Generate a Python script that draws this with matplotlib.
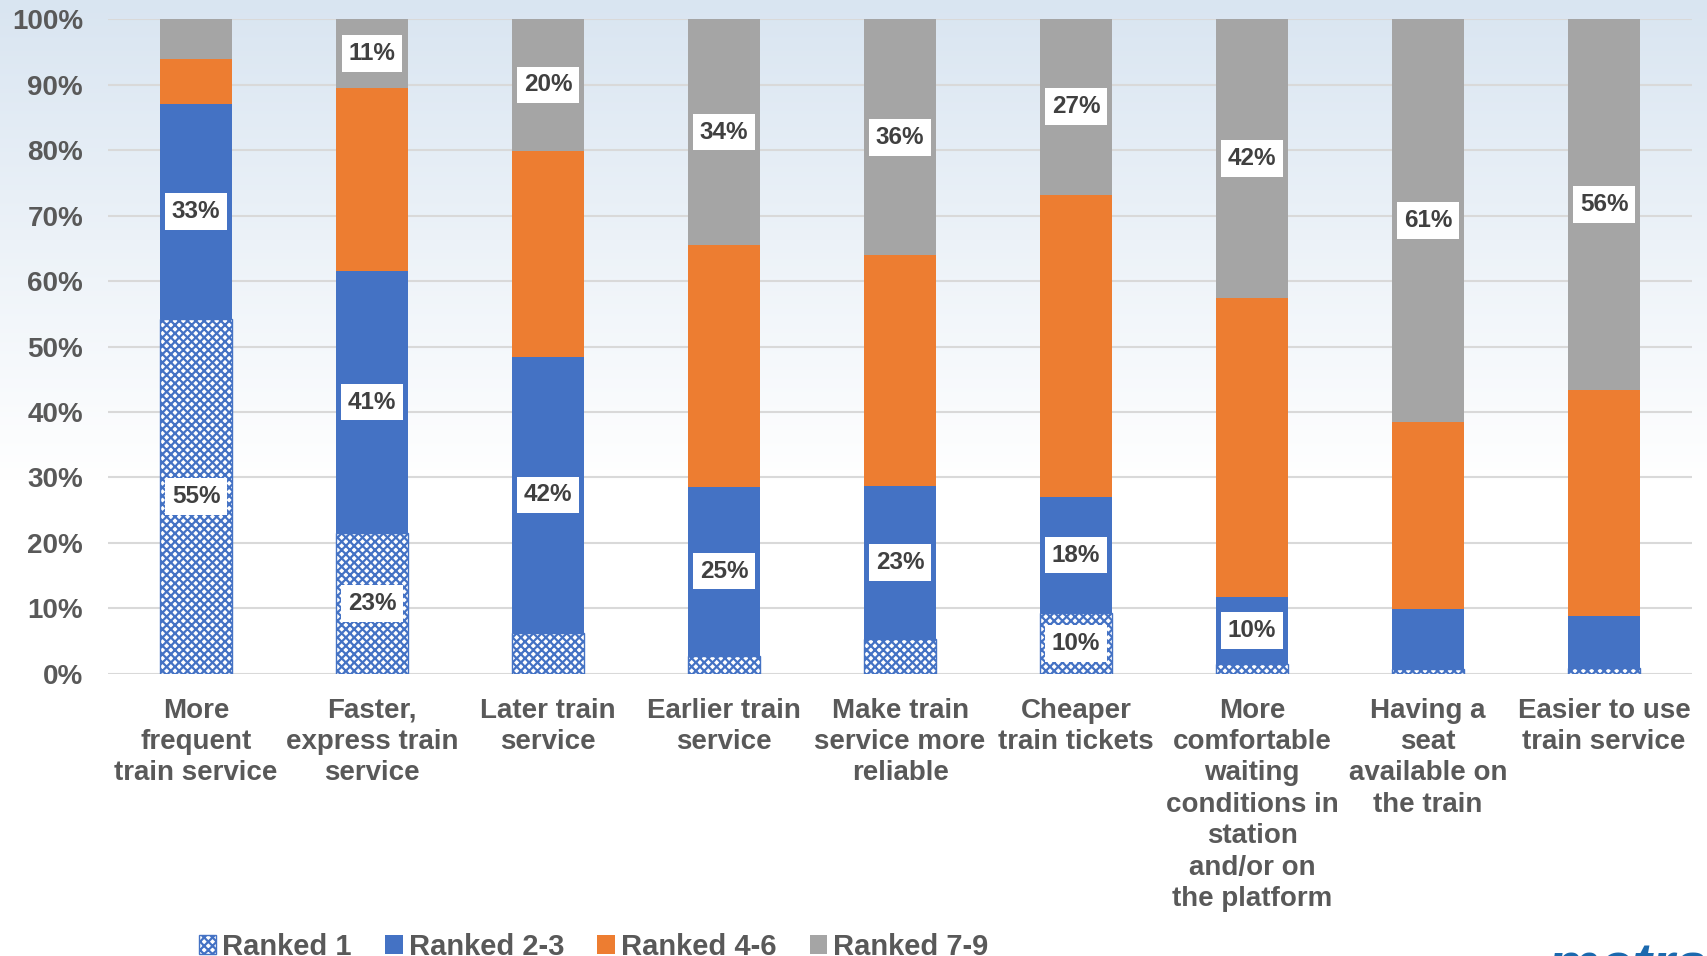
import numpy as np
import matplotlib
matplotlib.use("Agg")
import matplotlib.pyplot as plt

plt.rcParams['font.family'] = ['Liberation Sans', 'DejaVu Sans']
plt.rcParams['hatch.linewidth'] = 1.6

# categories (wrapped like the original slide)
categories = [
    "More\nfrequent\ntrain service",
    "Faster,\nexpress train\nservice",
    "Later train\nservice",
    "Earlier train\nservice",
    "Make train\nservice more\nreliable",
    "Cheaper\ntrain tickets",
    "More\ncomfortable\nwaiting\nconditions in\nstation\nand/or on\nthe platform",
    "Having a\nseat\navailable on\nthe train",
    "Easier to use\ntrain service",
]

# share of respondents (%) per ranking group
ranked_1 = [54.2, 21.5, 6.3, 2.8, 5.4, 9.3, 1.5, 0.7, 0.9]
ranked_2_3 = [32.9, 40.0, 42.1, 25.8, 23.3, 17.7, 10.3, 9.2, 8.0]
ranked_4_6 = [6.8, 27.9, 31.5, 36.9, 35.2, 46.2, 45.6, 28.6, 34.5]
ranked_7_9 = [6.1, 10.6, 20.1, 34.5, 36.1, 26.8, 42.6, 61.5, 56.6]

# data labels as printed on the chart ('' = no label)
labels_1 = ['55%', '23%', '', '', '', '10%', '', '', '']
labels_2_3 = ['33%', '41%', '42%', '25%', '23%', '18%', '10%', '', '']
labels_7_9 = ['', '11%', '20%', '34%', '36%', '27%', '42%', '61%', '56%']

series_names = ['Ranked 1', 'Ranked 2-3', 'Ranked 4-6', 'Ranked 7-9']

BLUE = '#4472c4'
ORANGE = '#ed7d31'
GREY = '#a5a5a5'
TXT = '#595959'

fig = plt.figure(figsize=(17.07, 9.56), dpi=100)

# light blue -> white background gradient
bg = fig.add_axes([0, 0, 1, 1], zorder=-10)
rows = 956
t = np.clip(np.arange(rows) / 480.0, 0, 1)[:, None]
top = np.array([217, 229, 241]) / 255.0
grad = top + (1 - top) * t
grad = np.repeat(grad[:, None, :], 2, axis=1)
bg.imshow(grad, aspect='auto', extent=[0, 1, 0, 1])
bg.axis('off')

ax = fig.add_axes([0.0633, 0.2950, 0.928, 0.6851])
ax.set_facecolor('none')

x = np.arange(len(categories))
w = 0.41
r1 = np.array(ranked_1)
r23 = np.array(ranked_2_3)
r46 = np.array(ranked_4_6)
r79 = np.array(ranked_7_9)

b1 = ax.bar(x, r1, w, color='white', edgecolor=BLUE, hatch='xxxx',
            linewidth=1, label=series_names[0], zorder=3)
b2 = ax.bar(x, r23, w, bottom=r1, color=BLUE, label=series_names[1], zorder=3)
b3 = ax.bar(x, r46, w, bottom=r1 + r23, color=ORANGE, label=series_names[2], zorder=3)
b4 = ax.bar(x, r79, w, bottom=r1 + r23 + r46, color=GREY, label=series_names[3], zorder=3)

box = dict(boxstyle='square,pad=0.28', facecolor='white', edgecolor='none')
for labs, bottoms, heights in [(labels_1, np.zeros(len(x)), r1),
                               (labels_2_3, r1, r23),
                               (labels_7_9, r1 + r23 + r46, r79)]:
    for i, s in enumerate(labs):
        if s:
            ax.text(x[i], bottoms[i] + heights[i] / 2, s, ha='center', va='center',
                    fontsize=17.5, fontweight='bold', color='#404040', bbox=box, zorder=5)

ax.set_xlim(-0.5, len(categories) - 0.5)
ax.set_ylim(0, 100)
ax.set_yticks(np.arange(0, 101, 10))
ax.set_yticklabels([f'{v}%' for v in range(0, 101, 10)])
ax.yaxis.grid(True, color='#d9d9d9', linewidth=1.5, zorder=0)
ax.set_axisbelow(True)
for sp in ax.spines.values():
    sp.set_visible(False)
ax.tick_params(axis='y', length=0, pad=18, labelsize=20, labelcolor=TXT)
ax.tick_params(axis='x', length=0, pad=17)
for lab in ax.get_yticklabels():
    lab.set_fontweight('bold')
ax.set_xticks(x)
ax.set_xticklabels(categories, fontsize=20, fontweight='bold', color=TXT,
                   linespacing=1.27, va='top')

fig.legend(handles=[b1, b2, b3, b4], labels=series_names, loc='lower left',
           bbox_to_anchor=(0.1165, -0.005), ncol=4, frameon=False,
           prop={'weight': 'bold', 'size': 21}, labelcolor=TXT,
           handlelength=0.6, handleheight=0.6, handletextpad=0.2,
           columnspacing=1.15, borderpad=0, borderaxespad=0)

# partially visible logo at the bottom edge
fig.text(1548 / 1707, -0.029, 'metra', color='#1b69ae', fontsize=42,
         fontweight='bold', style='italic', va='baseline', ha='left')

fig.savefig('out.png', dpi=100)
